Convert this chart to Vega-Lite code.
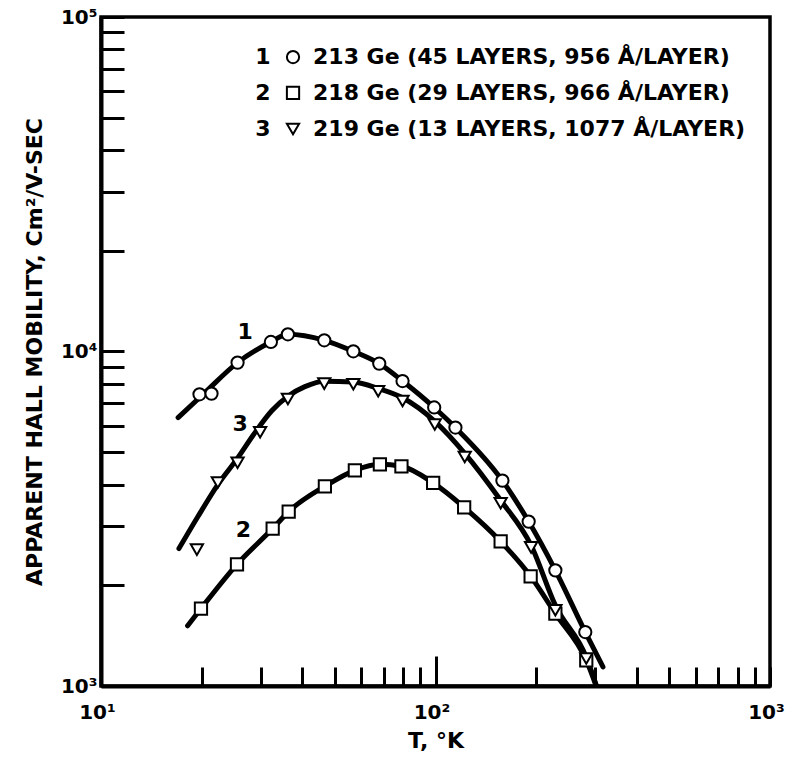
{
  "$schema": "https://vega.github.io/schema/vega-lite/v6.json",
  "width": 669,
  "height": 669,
  "autosize": {"type": "none"},
  "padding": {"left": 101, "top": 17, "right": 20, "bottom": 76},
  "background": "white",
  "config": {
    "view": {"stroke": "black", "strokeWidth": 3.5},
    "font": "DejaVu Sans",
    "axis": {
      "grid": false, "domainColor": "black", "domainWidth": 4, "tickColor": "black", "tickWidth": 3,
      "labelColor": "black", "titleColor": "black", "labelFont": "DejaVu Sans", "labelFontWeight": "bold",
      "labelFontSize": 20, "titleFont": "DejaVu Sans", "titleFontWeight": "bold", "titleFontSize": 22,
      "labelOverlap": false, "labelFlush": false
    }
  },
  "datasets": {
    "curves": [
      {"curve": "1", "T": 17, "mu": 6344}, {"curve": "1", "T": 20.5, "mu": 7556}, {"curve": "1", "T": 25.6, "mu": 9264},
      {"curve": "1", "T": 32.2, "mu": 10676}, {"curve": "1", "T": 36.2, "mu": 11257}, {"curve": "1", "T": 46.5, "mu": 10801},
      {"curve": "1", "T": 56.8, "mu": 10014}, {"curve": "1", "T": 67.9, "mu": 9201}, {"curve": "1", "T": 79.7, "mu": 8162},
      {"curve": "1", "T": 99.1, "mu": 6802}, {"curve": "1", "T": 114.7, "mu": 5923}, {"curve": "1", "T": 158.5, "mu": 4112},
      {"curve": "1", "T": 189.9, "mu": 3101}, {"curve": "1", "T": 228.2, "mu": 2217}, {"curve": "1", "T": 280.4, "mu": 1450},
      {"curve": "1", "T": 316.7, "mu": 1140},
      {"curve": "2", "T": 18.15, "mu": 1514}, {"curve": "2", "T": 19.9, "mu": 1704}, {"curve": "2", "T": 25.5, "mu": 2311},
      {"curve": "2", "T": 32.6, "mu": 2955}, {"curve": "2", "T": 36.4, "mu": 3322}, {"curve": "2", "T": 46.7, "mu": 3954},
      {"curve": "2", "T": 57.4, "mu": 4414}, {"curve": "2", "T": 68.2, "mu": 4600}, {"curve": "2", "T": 79.1, "mu": 4537},
      {"curve": "2", "T": 98.4, "mu": 4046}, {"curve": "2", "T": 121.8, "mu": 3421}, {"curve": "2", "T": 156.6, "mu": 2704},
      {"curve": "2", "T": 192.5, "mu": 2128}, {"curve": "2", "T": 228.2, "mu": 1646}, {"curve": "2", "T": 282.3, "mu": 1193},
      {"curve": "2", "T": 313, "mu": 906},
      {"curve": "3", "T": 17.1, "mu": 2575}, {"curve": "3", "T": 19.45, "mu": 3200}, {"curve": "3", "T": 22.35, "mu": 4000},
      {"curve": "3", "T": 25.6, "mu": 4800}, {"curve": "3", "T": 28.6, "mu": 5650}, {"curve": "3", "T": 32.4, "mu": 6650},
      {"curve": "3", "T": 36.2, "mu": 7350}, {"curve": "3", "T": 40.7, "mu": 7850}, {"curve": "3", "T": 46.5, "mu": 8150},
      {"curve": "3", "T": 56.8, "mu": 8100}, {"curve": "3", "T": 67.4, "mu": 7755}, {"curve": "3", "T": 79.7, "mu": 7272},
      {"curve": "3", "T": 99.5, "mu": 6185}, {"curve": "3", "T": 122.3, "mu": 4962}, {"curve": "3", "T": 156.6, "mu": 3590},
      {"curve": "3", "T": 193.1, "mu": 2634}, {"curve": "3", "T": 228.2, "mu": 1743}, {"curve": "3", "T": 282.3, "mu": 1219},
      {"curve": "3", "T": 313, "mu": 906}
    ],
    "markers": [
      {"sample": "213 Ge (45 LAYERS, 956 Å/LAYER)", "T": 19.7, "mu": 7447},
      {"sample": "213 Ge (45 LAYERS, 956 Å/LAYER)", "T": 21.4, "mu": 7484},
      {"sample": "213 Ge (45 LAYERS, 956 Å/LAYER)", "T": 25.6, "mu": 9264},
      {"sample": "213 Ge (45 LAYERS, 956 Å/LAYER)", "T": 32.2, "mu": 10676},
      {"sample": "213 Ge (45 LAYERS, 956 Å/LAYER)", "T": 36.2, "mu": 11257},
      {"sample": "213 Ge (45 LAYERS, 956 Å/LAYER)", "T": 46.5, "mu": 10801},
      {"sample": "213 Ge (45 LAYERS, 956 Å/LAYER)", "T": 56.8, "mu": 10014},
      {"sample": "213 Ge (45 LAYERS, 956 Å/LAYER)", "T": 67.9, "mu": 9201},
      {"sample": "213 Ge (45 LAYERS, 956 Å/LAYER)", "T": 79.7, "mu": 8162},
      {"sample": "213 Ge (45 LAYERS, 956 Å/LAYER)", "T": 99.1, "mu": 6802},
      {"sample": "213 Ge (45 LAYERS, 956 Å/LAYER)", "T": 114.7, "mu": 5923},
      {"sample": "213 Ge (45 LAYERS, 956 Å/LAYER)", "T": 158.5, "mu": 4112},
      {"sample": "213 Ge (45 LAYERS, 956 Å/LAYER)", "T": 189.9, "mu": 3101},
      {"sample": "213 Ge (45 LAYERS, 956 Å/LAYER)", "T": 228.2, "mu": 2217},
      {"sample": "213 Ge (45 LAYERS, 956 Å/LAYER)", "T": 280.4, "mu": 1450},
      {"sample": "218 Ge (29 LAYERS, 966 Å/LAYER)", "T": 19.9, "mu": 1704},
      {"sample": "218 Ge (29 LAYERS, 966 Å/LAYER)", "T": 25.5, "mu": 2311},
      {"sample": "218 Ge (29 LAYERS, 966 Å/LAYER)", "T": 32.6, "mu": 2955},
      {"sample": "218 Ge (29 LAYERS, 966 Å/LAYER)", "T": 36.4, "mu": 3322},
      {"sample": "218 Ge (29 LAYERS, 966 Å/LAYER)", "T": 46.7, "mu": 3954},
      {"sample": "218 Ge (29 LAYERS, 966 Å/LAYER)", "T": 57.4, "mu": 4414},
      {"sample": "218 Ge (29 LAYERS, 966 Å/LAYER)", "T": 68.2, "mu": 4600},
      {"sample": "218 Ge (29 LAYERS, 966 Å/LAYER)", "T": 79.1, "mu": 4537},
      {"sample": "218 Ge (29 LAYERS, 966 Å/LAYER)", "T": 98.4, "mu": 4046},
      {"sample": "218 Ge (29 LAYERS, 966 Å/LAYER)", "T": 121.8, "mu": 3421},
      {"sample": "218 Ge (29 LAYERS, 966 Å/LAYER)", "T": 156.6, "mu": 2704},
      {"sample": "218 Ge (29 LAYERS, 966 Å/LAYER)", "T": 192.5, "mu": 2128},
      {"sample": "218 Ge (29 LAYERS, 966 Å/LAYER)", "T": 228.2, "mu": 1646},
      {"sample": "218 Ge (29 LAYERS, 966 Å/LAYER)", "T": 282.3, "mu": 1193},
      {"sample": "219 Ge (13 LAYERS, 1077 Å/LAYER)", "T": 19.35, "mu": 2557},
      {"sample": "219 Ge (13 LAYERS, 1077 Å/LAYER)", "T": 22.35, "mu": 4057},
      {"sample": "219 Ge (13 LAYERS, 1077 Å/LAYER)", "T": 25.6, "mu": 4648},
      {"sample": "219 Ge (13 LAYERS, 1077 Å/LAYER)", "T": 29.9, "mu": 5734},
      {"sample": "219 Ge (13 LAYERS, 1077 Å/LAYER)", "T": 36.2, "mu": 7211},
      {"sample": "219 Ge (13 LAYERS, 1077 Å/LAYER)", "T": 46.5, "mu": 8017},
      {"sample": "219 Ge (13 LAYERS, 1077 Å/LAYER)", "T": 56.8, "mu": 7980},
      {"sample": "219 Ge (13 LAYERS, 1077 Å/LAYER)", "T": 67.4, "mu": 7603},
      {"sample": "219 Ge (13 LAYERS, 1077 Å/LAYER)", "T": 79.7, "mu": 7112},
      {"sample": "219 Ge (13 LAYERS, 1077 Å/LAYER)", "T": 99.5, "mu": 6049},
      {"sample": "219 Ge (13 LAYERS, 1077 Å/LAYER)", "T": 122.3, "mu": 4836},
      {"sample": "219 Ge (13 LAYERS, 1077 Å/LAYER)", "T": 156.6, "mu": 3517},
      {"sample": "219 Ge (13 LAYERS, 1077 Å/LAYER)", "T": 193.1, "mu": 2597},
      {"sample": "219 Ge (13 LAYERS, 1077 Å/LAYER)", "T": 228.2, "mu": 1684},
      {"sample": "219 Ge (13 LAYERS, 1077 Å/LAYER)", "T": 282.3, "mu": 1208}
    ],
    "labels": [
      {"text": "1", "T": 26.96, "mu": 11438},
      {"text": "3", "T": 26.05, "mu": 6059},
      {"text": "2", "T": 26.67, "mu": 2920}
    ],
    "legend": [
      {"num": "1", "sample": "213 Ge (45 LAYERS, 956 Å/LAYER)", "Tnum": 30.5, "Tsym": 37.5, "Ttext": 43.04, "mu": 75900},
      {"num": "2", "sample": "218 Ge (29 LAYERS, 966 Å/LAYER)", "Tnum": 30.5, "Tsym": 37.5, "Ttext": 43.04, "mu": 59270},
      {"num": "3", "sample": "219 Ge (13 LAYERS, 1077 Å/LAYER)", "Tnum": 30.5, "Tsym": 37.5, "Ttext": 43.04, "mu": 46270}
    ]
  },
  "layer": [
    {
      "data": {"name": "curves"},
      "mark": {"type": "line", "interpolate": "monotone", "strokeWidth": 5, "color": "black", "clip": true, "strokeCap": "round"},
      "encoding": {
        "x": {
          "field": "T", "type": "quantitative",
          "scale": {"type": "log", "domain": [10, 1000], "nice": false},
          "axis": {
            "title": "T, °K",
            "values": [10, 20, 30, 40, 50, 60, 70, 80, 90, 100, 200, 300, 400, 500, 600, 700, 800, 900, 1000],
            "labelExpr": "datum.value == 10 ? '10¹' : datum.value == 100 ? '10²' : datum.value == 1000 ? '10³' : ''",
            "tickSize": {"condition": {"test": "datum.value == 100", "value": -30}, "value": -19},
            "labelPadding": {"condition": {"test": "datum.value == 100", "value": 46}, "value": 35},
            "labelOffset": -4,
            "titlePadding": 8
          }
        },
        "y": {
          "field": "mu", "type": "quantitative",
          "scale": {"type": "log", "domain": [1000, 100000], "nice": false},
          "axis": {
            "title": "APPARENT HALL MOBILITY, Cm²/V-SEC",
            "values": [1000, 2000, 3000, 4000, 5000, 6000, 7000, 8000, 9000, 10000, 20000, 30000, 40000, 50000, 60000, 70000, 80000, 90000, 100000],
            "labelExpr": "datum.value == 1000 ? '10³' : datum.value == 10000 ? '10⁴' : datum.value == 100000 ? '10⁵' : ''",
            "tickSize": -23,
            "labelPadding": 27,
            "titlePadding": 14
          }
        },
        "detail": {"field": "curve", "type": "nominal"}
      }
    },
    {
      "data": {"name": "markers"},
      "mark": {"type": "point", "filled": false, "fill": "white", "stroke": "black", "strokeWidth": 2, "size": 150, "opacity": 1},
      "encoding": {
        "x": {"field": "T", "type": "quantitative"},
        "y": {"field": "mu", "type": "quantitative"},
        "shape": {
          "field": "sample", "type": "nominal",
          "scale": {
            "domain": ["213 Ge (45 LAYERS, 956 Å/LAYER)", "218 Ge (29 LAYERS, 966 Å/LAYER)", "219 Ge (13 LAYERS, 1077 Å/LAYER)"],
            "range": ["circle", "square", "triangle-down"]
          },
          "legend": null
        }
      }
    },
    {
      "data": {"name": "legend"},
      "mark": {"type": "point", "filled": false, "fill": "white", "stroke": "black", "strokeWidth": 2, "size": 150, "opacity": 1},
      "encoding": {
        "x": {"field": "Tsym", "type": "quantitative"},
        "y": {"field": "mu", "type": "quantitative"},
        "shape": {"field": "sample", "type": "nominal", "legend": null}
      }
    },
    {
      "data": {"name": "legend"},
      "mark": {"type": "text", "font": "DejaVu Sans", "fontWeight": "bold", "fontSize": 22, "color": "black", "align": "center", "baseline": "middle"},
      "encoding": {
        "x": {"field": "Tnum", "type": "quantitative"},
        "y": {"field": "mu", "type": "quantitative"},
        "text": {"field": "num", "type": "nominal"}
      }
    },
    {
      "data": {"name": "legend"},
      "mark": {"type": "text", "font": "DejaVu Sans", "fontWeight": "bold", "fontSize": 22, "color": "black", "align": "left", "baseline": "middle"},
      "encoding": {
        "x": {"field": "Ttext", "type": "quantitative"},
        "y": {"field": "mu", "type": "quantitative"},
        "text": {"field": "sample", "type": "nominal"}
      }
    },
    {
      "data": {"name": "labels"},
      "mark": {"type": "text", "font": "DejaVu Sans", "fontWeight": "bold", "fontSize": 22, "color": "black", "align": "center", "baseline": "middle"},
      "encoding": {
        "x": {"field": "T", "type": "quantitative"},
        "y": {"field": "mu", "type": "quantitative"},
        "text": {"field": "text", "type": "nominal"}
      }
    }
  ]
}
